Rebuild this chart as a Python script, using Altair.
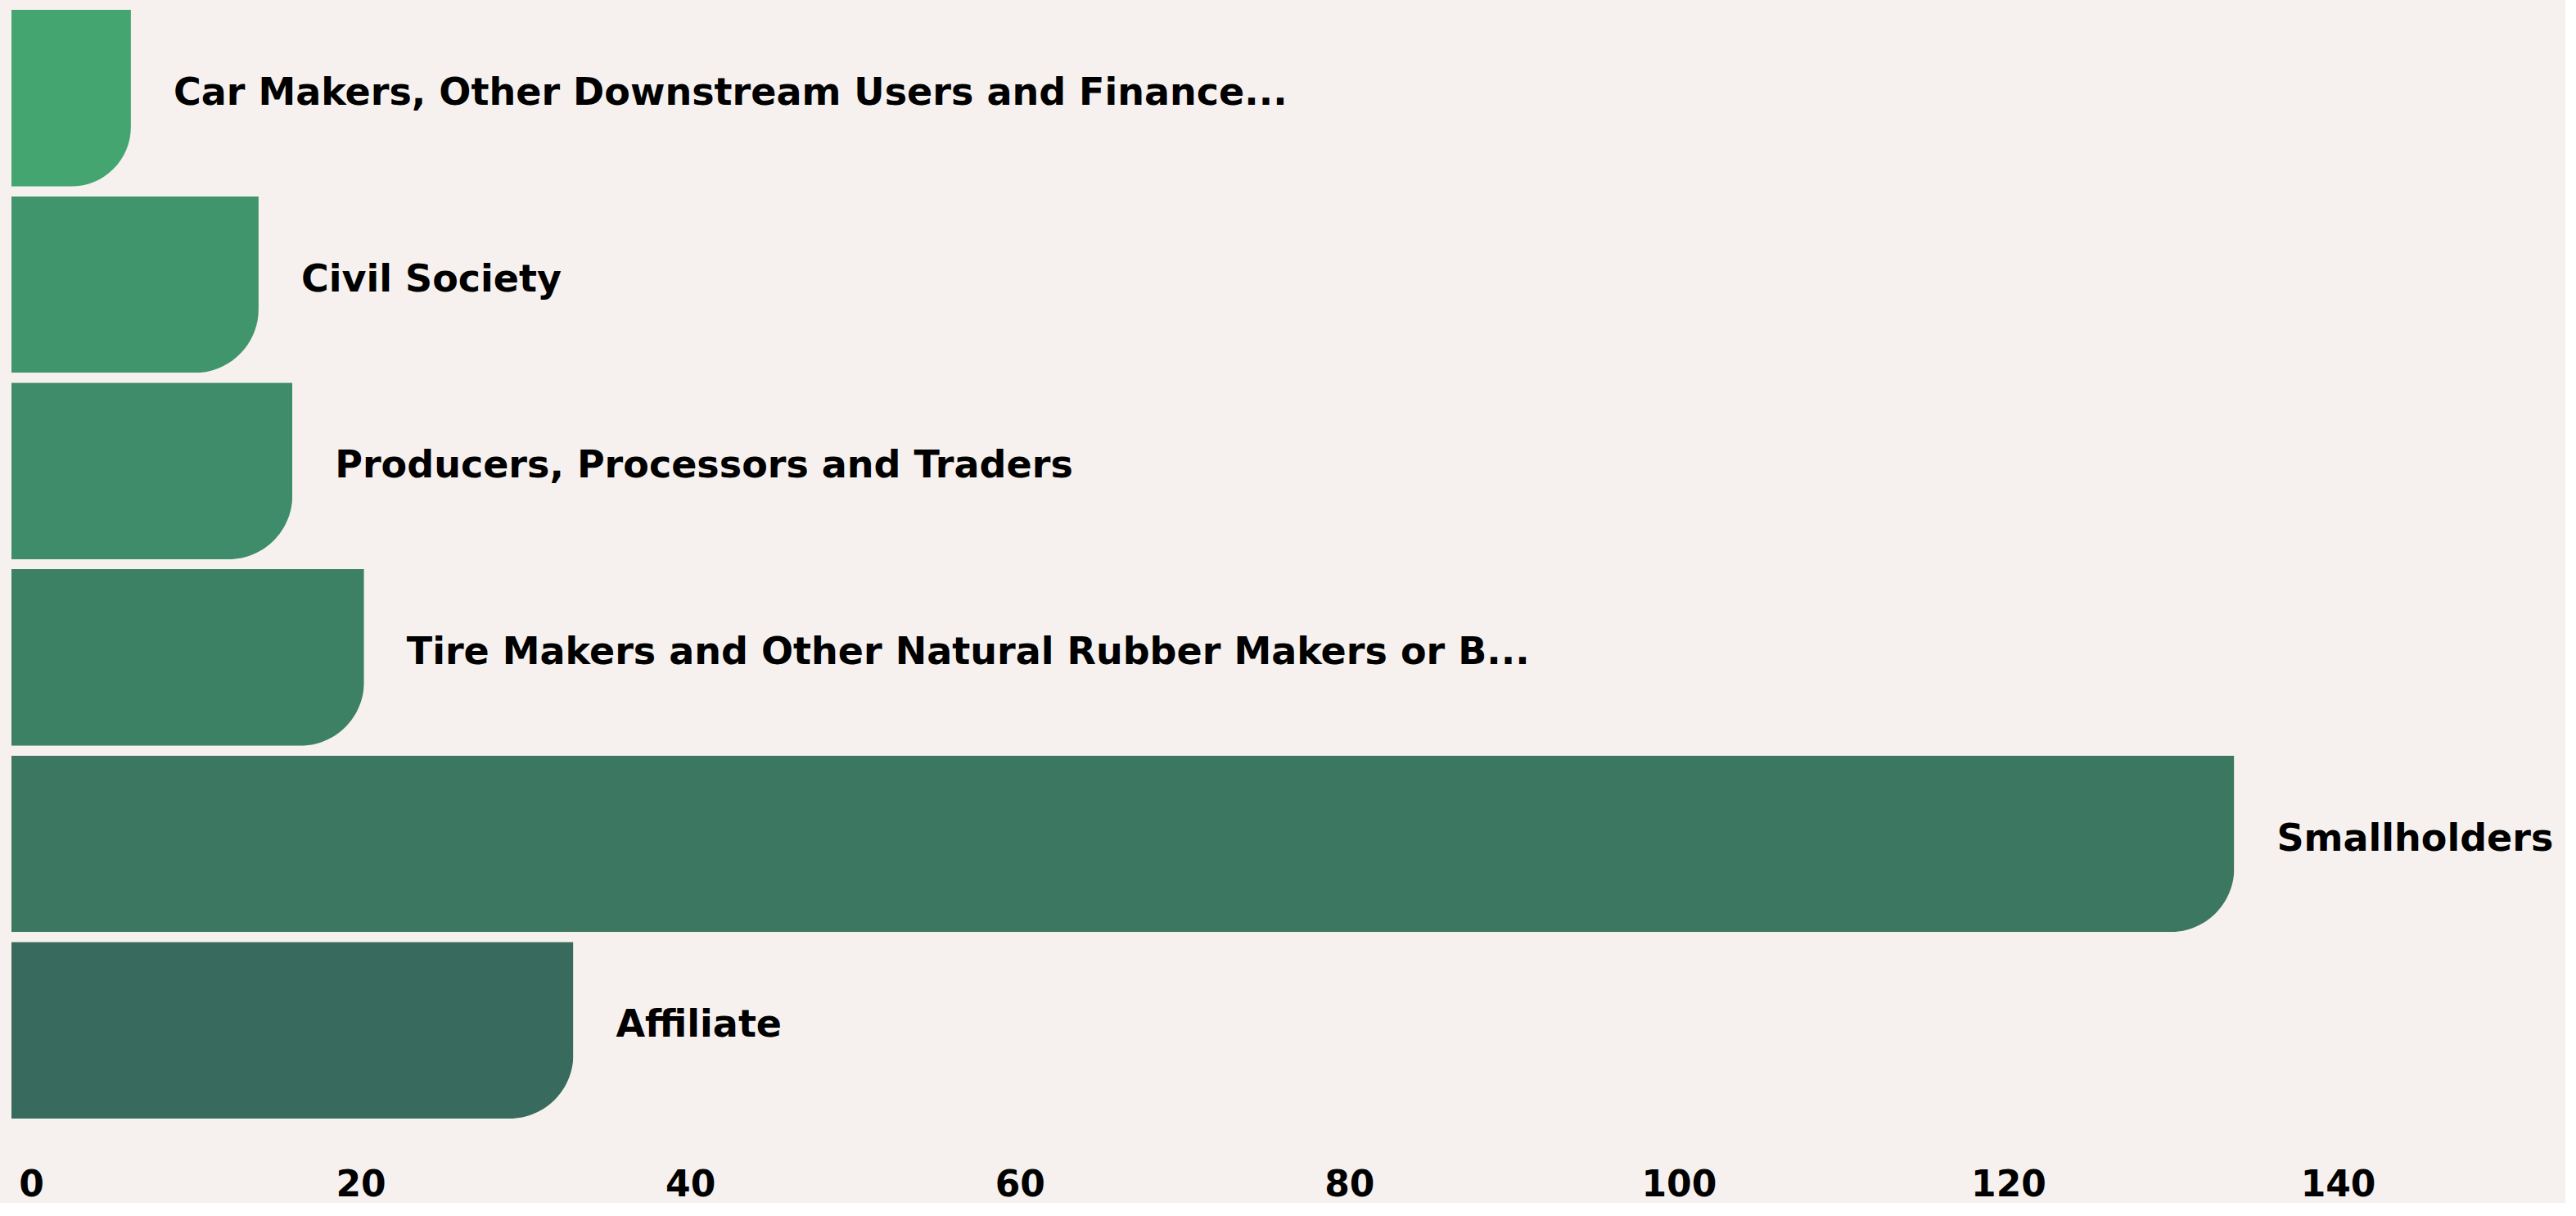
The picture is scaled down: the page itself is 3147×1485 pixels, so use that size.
import altair as alt
import pandas as pd

categories = [
    "Car Makers, Other Downstream Users and Finance...",
    "Civil Society",
    "Producers, Processors and Traders",
    "Tire Makers and Other Natural Rubber Makers or B...",
    "Smallholders",
    "Affiliate",
]
values = [7.25, 15, 17.05, 21.4, 134.9, 34.1]
tick_values = [0, 20, 40, 60, 80, 100, 120, 140]

bar_colors = ["#44A570", "#40956C", "#3F8C6A", "#3D8165", "#3B7761", "#386B5D"]

df = pd.DataFrame({"category": categories, "value": values})

FONT = "DejaVu Sans"

base = alt.Chart(df).encode(
    y=alt.Y(
        "category:N",
        sort=categories,
        axis=None,
        scale=alt.Scale(paddingInner=0.053, paddingOuter=0.0265),
    ),
    x=alt.X(
        "value:Q",
        scale=alt.Scale(domain=[0, 155], nice=False, zero=True),
        axis=alt.Axis(
            values=tick_values,
            title=None,
            domain=False,
            ticks=False,
            grid=False,
            labelFont=FONT,
            labelFontSize=44,
            labelFontWeight=600,
            labelColor="#000000",
            labelPadding=53,
            labelOffset=24,
            labelFlush=False,
            labelAlign="center",
        ),
    ),
)

bars = base.mark_bar(cornerRadiusBottomRight=78).encode(
    color=alt.Color(
        "category:N",
        scale=alt.Scale(domain=categories, range=bar_colors),
        legend=None,
    )
)

labels = base.mark_text(
    align="left",
    baseline="middle",
    dx=52,
    dy=-6,
    font=FONT,
    fontSize=46,
    fontWeight=600,
    color="#000000",
).encode(text="category:N")

chart = (
    (bars + labels)
    .properties(width=3120, height=1366, background="#F6F1EE",
                padding={"left": 14, "top": 6, "right": 0, "bottom": 0})
    .configure_view(stroke=None)
)

chart.save("out.html", embed_options={"renderer": "svg", "actions": False})
